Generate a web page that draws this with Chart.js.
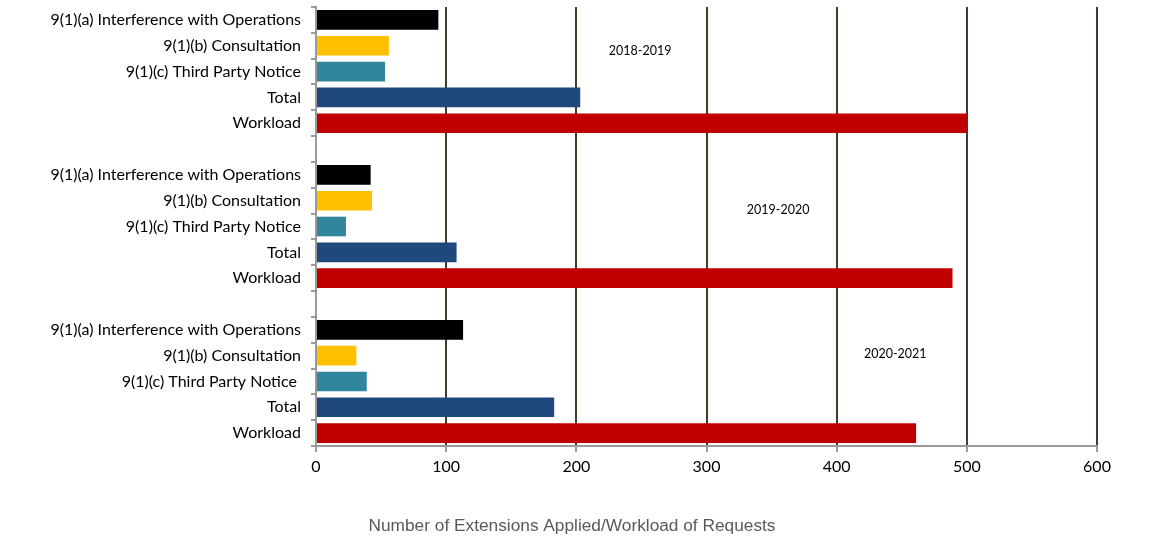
<!DOCTYPE html>
<html>
<head>
<meta charset="utf-8">
<script src="https://cdn.jsdelivr.net/npm/chart.js@4.4.1/dist/chart.umd.min.js"></script>
<style>
  html, body { margin: 0; padding: 0; background: #ffffff; }
  #wrap { width: 1170px; height: 547px; }
</style>
</head>
<body>
<div id="wrap"><canvas id="c"></canvas></div>
<script>
// ---- data ----
const categories = [
  "9(1)(a) Interference with Operations", "9(1)(b) Consultation", "9(1)(c) Third Party Notice", "Total", "Workload",
  "",
  "9(1)(a) Interference with Operations", "9(1)(b) Consultation", "9(1)(c) Third Party Notice", "Total", "Workload",
  "",
  "9(1)(a) Interference with Operations", "9(1)(b) Consultation", "9(1)(c) Third Party Notice ", "Total", "Workload"
];
const values2018 = [94, 56, 53, 203, 500];
const values2019 = [42, 43, 23, 108, 489];
const values2020 = [113, 31, 39, 183, 461];
const periodLabels = ["2018-2019", "2019-2020", "2020-2021"];
const xTicks = [0, 100, 200, 300, 400, 500, 600];
const axisTitle = "Number of Extensions Applied/Workload of Requests";

const barColors = ["#000000", "#ffc000", "#31859c", "#1f497d", "#c00000"];

const values = [...values2018, null, ...values2019, null, ...values2020];
const colors = [...barColors, "#fff", ...barColors, "#fff", ...barColors];

// annotation anchor (value on x axis, fractional category index)
const periodAnchors = [
  { x: 249, y: 1.2 },
  { x: 355, y: 7.35 },
  { x: 445, y: 12.95 }
];

const annotate = {
  id: "annotate",
  afterDatasetsDraw(chart) {
    const { ctx, scales } = chart;
    ctx.save();
    ctx.font = "12.5px Lato, 'Open Sans', sans-serif";
    ctx.fillStyle = "#000";
    ctx.textAlign = "center";
    ctx.textBaseline = "middle";
    periodLabels.forEach((t, i) => {
      const a = periodAnchors[i];
      ctx.fillText(t, scales.x.getPixelForValue(a.x), scales.y.getPixelForValue(a.y));
    });
    ctx.restore();
  }
};

const olive = "#403e28";
const axisGray = "#9a9a9a";

new Chart(document.getElementById("c"), {
  type: "bar",
  data: {
    labels: categories,
    datasets: [{
      data: values,
      backgroundColor: colors,
      borderWidth: 0,
      categoryPercentage: 0.76,
      barPercentage: 1.0
    }]
  },
  plugins: [annotate],
  options: {
    indexAxis: "y",
    responsive: true,
    maintainAspectRatio: false,
    animation: false,
    devicePixelRatio: 1,
    layout: { padding: { left: 47, right: 73, top: 7, bottom: 2 } },
    plugins: {
      legend: { display: false },
      tooltip: { enabled: false },
      title: {
        display: true,
        position: "bottom",
        text: axisTitle,
        color: "#595959",
        font: { family: "'Liberation Sans Narrow', 'Liberation Sans', Arial, sans-serif", size: 17.3, weight: "normal" },
        padding: { top: 35, bottom: 8 }
      }
    },
    scales: {
      x: {
        min: 0,
        max: 600,
        afterBuildTicks(scale) { scale.ticks = xTicks.map(v => ({ value: v })); },
        ticks: {
          color: "#000",
          font: { family: "Lato, 'Open Sans', sans-serif", size: 16 },
          padding: 5
        },
        grid: {
          color: (c) => (c.tick && c.tick.value === 0) ? axisGray : olive,
          lineWidth: 2,
          tickLength: 6,
          tickColor: axisGray
        },
        border: { color: axisGray, width: 2 }
      },
      y: {
        afterFit(scale) {
          scale.width = 269;
          scale.paddingTop = 0;
          scale.paddingBottom = 0;
        },
        ticks: {
          color: "#000",
          font: { family: "Lato, 'Open Sans', sans-serif", size: 16 },
          padding: 10,
          autoSkip: false
        },
        grid: {
          offset: true,
          drawOnChartArea: false,
          tickLength: 5,
          color: axisGray,
          lineWidth: 2
        },
        border: { color: axisGray, width: 2 }
      }
    }
  }
});
</script>
</body>
</html>
